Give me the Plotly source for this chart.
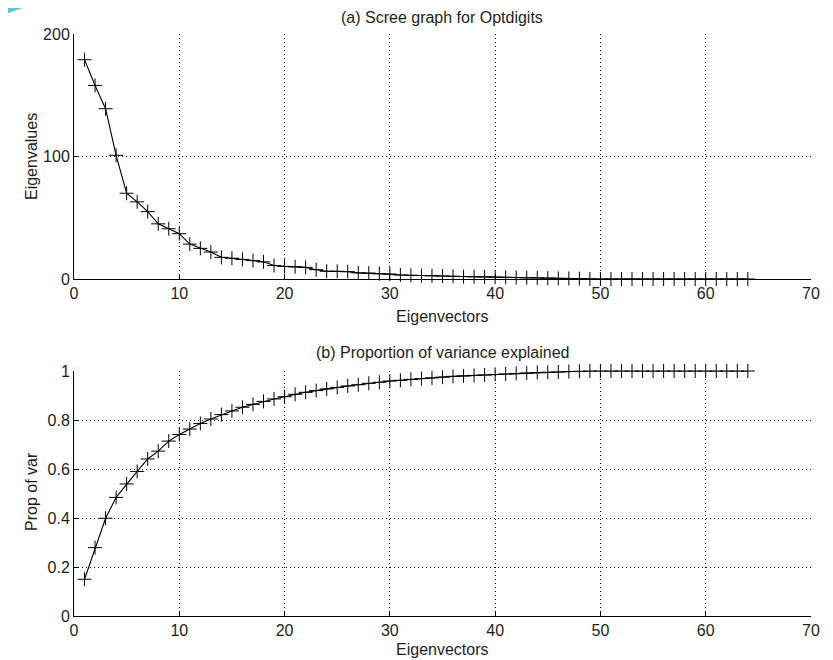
import plotly.graph_objects as go

# ---- data ----
eig_index = list(range(1, 65))
eigenvalues = [179, 158, 139, 101, 70, 63, 55, 45, 41, 37,
               28.5, 25, 22, 17.7, 17, 16, 15, 14, 11, 10.3,
               10, 9.5, 7.6, 6.3, 6.2, 6, 5, 4.8, 4.3, 4,
               3.3, 3.0, 2.8, 2.6, 2.4, 2.2, 2.0, 1.8, 1.7, 1.5,
               1.3, 1.2, 1.0, 0.9, 0.7, 0.5, 0.4, 0.3, 0.1, 0,
               0, 0, 0, 0, 0, 0, 0, 0, 0, 0,
               0, 0, 0, 0]
prop_var = [0.15, 0.279, 0.399, 0.484, 0.539, 0.590, 0.641, 0.673, 0.714, 0.741,
            0.763, 0.786, 0.804, 0.822, 0.837, 0.852, 0.864, 0.876, 0.886, 0.895,
            0.905, 0.913, 0.920, 0.927, 0.933, 0.939, 0.944, 0.950, 0.954, 0.959,
            0.962, 0.966, 0.969, 0.972, 0.975, 0.978, 0.980, 0.982, 0.984, 0.986,
            0.988, 0.990, 0.992, 0.994, 0.995, 0.996, 0.998, 0.999, 1.0, 1.0,
            1.0, 1.0, 1.0, 1.0, 1.0, 1.0, 1.0, 1.0, 1.0, 1.0,
            1.0, 1.0, 1.0, 1.0]
x_ticks = [0, 10, 20, 30, 40, 50, 60, 70]
eig_ticks = [0, 100, 200]
prop_ticks = [0, 0.2, 0.4, 0.6, 0.8, 1]
prop_tick_text = ["0", "0.2", "0.4", "0.6", "0.8", "1"]

FONT = "Liberation Sans, Arial, sans-serif"
TXT = "#1e1e1e"
FS = 16

OFF = 8  # page body offset
W, H = 833, 660
# desired page-pixel positions of the plotting area
PL, PR, PT, PB = 74, 811, 34, 616
ML, MT = PL - OFF, PT - OFF
MR, MB = W - (PR - OFF), H - (PB - OFF)
PW = PR - PL
PH = PB - PT


def px(xp):  # page pixel x -> paper
    return (xp - PL) / PW


def py(yp):  # page pixel y -> paper
    return (PB - yp) / PH


fig = go.Figure()

line_style = dict(color="black", width=1.1)
marker_style = dict(symbol="cross-thin", size=10, line=dict(color="black", width=1), color="black")

fig.add_trace(go.Scatter(x=eig_index, y=eigenvalues, mode="lines+markers",
                         line=line_style, marker=marker_style,
                         xaxis="x", yaxis="y", showlegend=False, cliponaxis=False))
fig.add_trace(go.Scatter(x=eig_index, y=prop_var, mode="lines+markers",
                         line=line_style, marker=marker_style,
                         xaxis="x2", yaxis="y2", showlegend=False, cliponaxis=False))

axis_common = dict(
    showgrid=True, gridcolor="black", gridwidth=1, griddash="1px,3px",
    showline=True, linecolor="black", linewidth=1,
    ticks="inside", ticklen=5, tickcolor="black", tickwidth=1,
    zeroline=False, mirror=False,
    tickfont=dict(family=FONT, size=FS, color=TXT),
)

top_bottom = 279
bot_top = 371

fig.update_layout(
    width=W, height=H,
    margin=dict(l=ML, r=MR, t=MT, b=MB),
    paper_bgcolor="white", plot_bgcolor="white",
    font=dict(family=FONT, size=FS, color=TXT),
    xaxis=dict(domain=[0, 1], range=[0, 70], tickvals=x_ticks, anchor="y", **axis_common),
    yaxis=dict(domain=[py(top_bottom), 1], range=[0, 200], tickvals=eig_ticks, anchor="x", **axis_common),
    xaxis2=dict(domain=[0, 1], range=[0, 70], tickvals=x_ticks, anchor="y2", **axis_common),
    yaxis2=dict(domain=[0, py(bot_top)], range=[0, 1], tickvals=prop_ticks,
                ticktext=prop_tick_text, anchor="x2", **axis_common),
)

ann = []


def add_text(text, xp, yp, angle=0):
    ann.append(dict(text=text, x=px(xp), y=py(yp), xref="paper", yref="paper", textangle=angle,
                    showarrow=False, xanchor="center", yanchor="middle",
                    font=dict(family=FONT, size=FS, color=TXT)))


add_text("(a) Scree graph for Optdigits", 442, 17)
add_text("(b) Proportion of variance explained", 442, 352)
add_text("Eigenvectors", 442, 316)
add_text("Eigenvectors", 442, 649)
add_text("Eigenvalues", 31, 157, -90)
add_text("Prop of var", 31, 492, -90)
fig.update_layout(annotations=ann)

# slide decoration (light blue band at the top)
shapes = [
    dict(type="path", xref="paper", yref="paper",
         path=f"M {px(0)},{py(-10)} L {px(840)},{py(-10)} L {px(840)},{py(5)} "
              f"Q {px(420)},{py(1)} {px(20)},{py(6)} L {px(0)},{py(14)} Z",
         fillcolor="#8fd6ea", line=dict(width=0), layer="below"),
    dict(type="path", xref="paper", yref="paper",
         path=f"M {px(0)},{py(-10)} L {px(45)},{py(-10)} L {px(45)},{py(0)} L {px(0)},{py(16)} Z",
         fillcolor="#5fc3df", line=dict(width=0), layer="below"),
]
fig.update_layout(shapes=shapes)

fig.write_html("out.html")
